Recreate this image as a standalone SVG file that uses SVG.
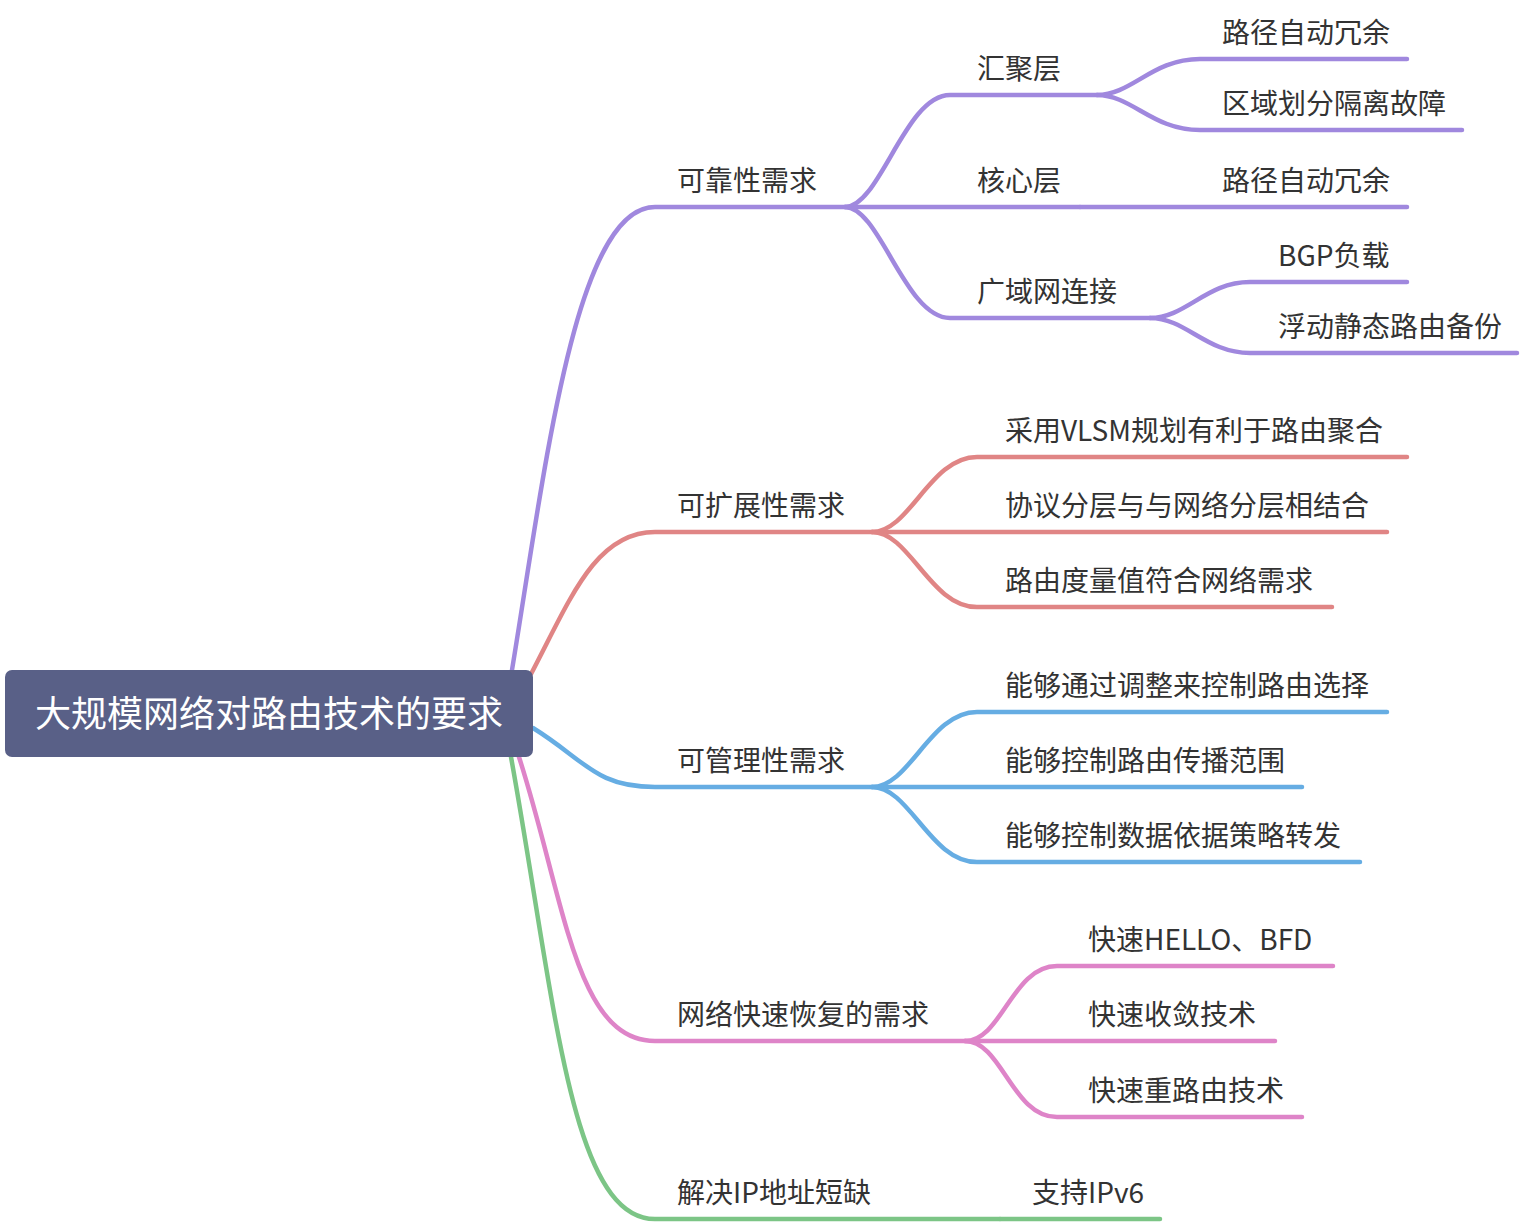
<svg xmlns="http://www.w3.org/2000/svg" width="1522" height="1224" viewBox="0 0 1522 1224">
<style>
.t{font-family:"Noto Sans CJK SC","Noto Sans",sans-serif;font-size:28px;fill:#333333}
.root{font-family:"Noto Sans CJK SC","Noto Sans",sans-serif;font-size:36px;fill:#ffffff}
.c{fill:none;stroke-width:4.5;stroke-linecap:round}
.pu{stroke:#a088de}.re{stroke:#e08585}.bl{stroke:#66ade3}.pk{stroke:#de84c8}.gr{stroke:#7cc586}
</style>
<rect width="1522" height="1224" fill="#ffffff"/>
<g id="connectors">
<path class="c pu" d="M512,670 C545,470 575,207 655,207 L845,207"/>
<path class="c re" d="M531,674 C570,600 595,532 655,532 L872,532"/>
<path class="c bl" d="M533,728 C585,760 595,787 655,787 L872,787"/>
<path class="c pk" d="M519,757 C565,900 575,1041 655,1041 L965,1041"/>
<path class="c gr" d="M511,757 C555,1000 570,1219 655,1219 L1000,1219"/>
<path class="c pu" d="M845,207 C880,207 905,95 950,95 L1097,95"/>
<path class="c pu" d="M845,207 L1080,207"/>
<path class="c pu" d="M845,207 C880,207 905,318 950,318 L1150,318"/>
<path class="c pu" d="M1097,95 C1132,95 1152,59 1200,59 L1407,59"/>
<path class="c pu" d="M1097,95 C1132,95 1152,130 1200,130 L1462,130"/>
<path class="c pu" d="M1080,207 L1407,207"/>
<path class="c pu" d="M1150,318 C1186,318 1206,282 1250,282 L1407,282"/>
<path class="c pu" d="M1150,318 C1186,318 1206,353 1250,353 L1517,353"/>
<path class="c re" d="M872,532 C910,532 930,457 977,457 L1407,457"/>
<path class="c re" d="M872,532 L1387,532"/>
<path class="c re" d="M872,532 C910,532 930,607 977,607 L1332,607"/>
<path class="c bl" d="M872,787 C910,787 930,712 977,712 L1387,712"/>
<path class="c bl" d="M872,787 L1302,787"/>
<path class="c bl" d="M872,787 C910,787 930,862 977,862 L1360,862"/>
<path class="c pk" d="M965,1041 C1002,1041 1012,966 1057,966 L1333,966"/>
<path class="c pk" d="M965,1041 L1275,1041"/>
<path class="c pk" d="M965,1041 C1002,1041 1012,1117 1057,1117 L1302,1117"/>
<path class="c gr" d="M1000,1219 L1160,1219"/>
</g>
<g id="root"><rect x="5" y="670" width="528" height="87" rx="7" fill="#596087"/><text class="root" x="269" y="727" text-anchor="middle">大规模网络对路由技术的要求</text></g>
<g id="n1"><text class="t" x="677" y="191">可靠性需求</text></g>
<g id="n2"><text class="t" x="677" y="516">可扩展性需求</text></g>
<g id="n3"><text class="t" x="677" y="771">可管理性需求</text></g>
<g id="n4"><text class="t" x="677" y="1025">网络快速恢复的需求</text></g>
<g id="n5"><text class="t" x="677" y="1203">解决IP地址短缺</text></g>
<g id="n1-1"><text class="t" x="977" y="79">汇聚层</text></g>
<g id="n1-2"><text class="t" x="977" y="191">核心层</text></g>
<g id="n1-3"><text class="t" x="977" y="302">广域网连接</text></g>
<g id="n1-1-1"><text class="t" x="1222" y="43">路径自动冗余</text></g>
<g id="n1-1-2"><text class="t" x="1222" y="114">区域划分隔离故障</text></g>
<g id="n1-2-1"><text class="t" x="1222" y="191">路径自动冗余</text></g>
<g id="n1-3-1"><text class="t" x="1278" y="266">BGP负载</text></g>
<g id="n1-3-2"><text class="t" x="1278" y="337">浮动静态路由备份</text></g>
<g id="n2-1"><text class="t" x="1005" y="441">采用VLSM规划有利于路由聚合</text></g>
<g id="n2-2"><text class="t" x="1005" y="516">协议分层与与网络分层相结合</text></g>
<g id="n2-3"><text class="t" x="1005" y="591">路由度量值符合网络需求</text></g>
<g id="n3-1"><text class="t" x="1005" y="696">能够通过调整来控制路由选择</text></g>
<g id="n3-2"><text class="t" x="1005" y="771">能够控制路由传播范围</text></g>
<g id="n3-3"><text class="t" x="1005" y="846">能够控制数据依据策略转发</text></g>
<g id="n4-1"><text class="t" x="1088" y="950">快速HELLO、BFD</text></g>
<g id="n4-2"><text class="t" x="1088" y="1025">快速收敛技术</text></g>
<g id="n4-3"><text class="t" x="1088" y="1101">快速重路由技术</text></g>
<g id="n5-1"><text class="t" x="1032" y="1203">支持IPv6</text></g>
</svg>
